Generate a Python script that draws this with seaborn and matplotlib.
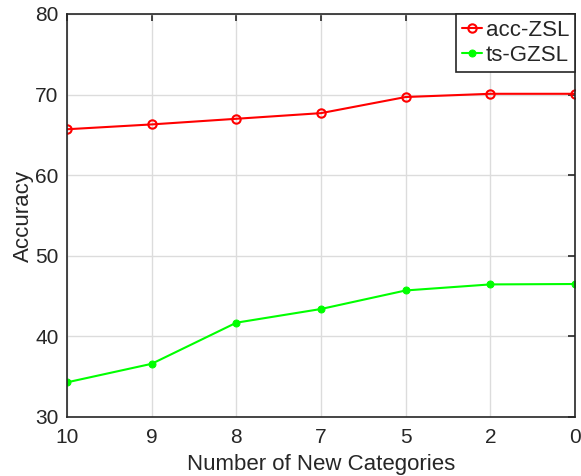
import seaborn as sns
import matplotlib.pyplot as plt
import pandas as pd

# Number of new categories (x axis, shown as equally spaced categories)
categories = ["10", "9", "8", "7", "5", "2", "0"]

# Accuracy values
acc_zsl = [65.7, 66.3, 67.0, 67.7, 69.7, 70.1, 70.1]
ts_gzsl = [34.3, 36.6, 41.7, 43.4, 45.7, 46.45, 46.5]

y_ticks = [30, 40, 50, 60, 70, 80]

df = pd.DataFrame({
    "pos": range(len(categories)),
    "acc-ZSL": acc_zsl,
    "ts-GZSL": ts_gzsl,
})

sns.set_theme(style="white")
plt.rcParams['font.family'] = ['Liberation Sans', 'DejaVu Sans']

fig = plt.figure(figsize=(5.81, 4.76), dpi=100)
ax = fig.add_axes([67 / 581, 59 / 476, 508 / 581, 403 / 476])

sns.lineplot(data=df, x="pos", y="acc-ZSL", ax=ax, color="#ff0000", linewidth=1.5,
             marker="o", markersize=6, markerfacecolor="none", markeredgecolor="#ff0000",
             markeredgewidth=1.5, label="acc-ZSL")
sns.lineplot(data=df, x="pos", y="ts-GZSL", ax=ax, color="#00ff00", linewidth=1.5,
             marker="o", markersize=5, markerfacecolor="#00ff00", markeredgecolor="#00ff00",
             label="ts-GZSL")

ax.set_xlim(0, len(categories) - 1)
ax.set_ylim(30, 80)
ax.set_xticks(range(len(categories)))
ax.set_xticklabels(categories)
ax.set_yticks(y_ticks)

ax.grid(True, color="#dcdcdc", linewidth=1)
ax.set_axisbelow(True)
for s in ax.spines.values():
    s.set_color("#262626")
    s.set_linewidth(1.2)
ax.tick_params(direction="in", length=5, width=1.2, color="#262626",
               top=True, right=True, labelsize=15, labelcolor="#262626")
ax.tick_params(axis="x", pad=8)
ax.tick_params(axis="y", pad=6)

ax.set_xlabel("Number of New Categories", fontsize=16, color="#262626", labelpad=5)
ax.set_ylabel("Accuracy", fontsize=16, color="#262626", labelpad=1)

leg = ax.legend(loc="upper right", fontsize=16, frameon=True, fancybox=False,
                borderaxespad=0, handlelength=0.9, handletextpad=0.2,
                borderpad=0.25, labelspacing=0.2)
leg.get_frame().set_edgecolor("#262626")
leg.get_frame().set_linewidth(1.2)
leg.get_frame().set_alpha(1)

plt.savefig("out.png", dpi=100)
